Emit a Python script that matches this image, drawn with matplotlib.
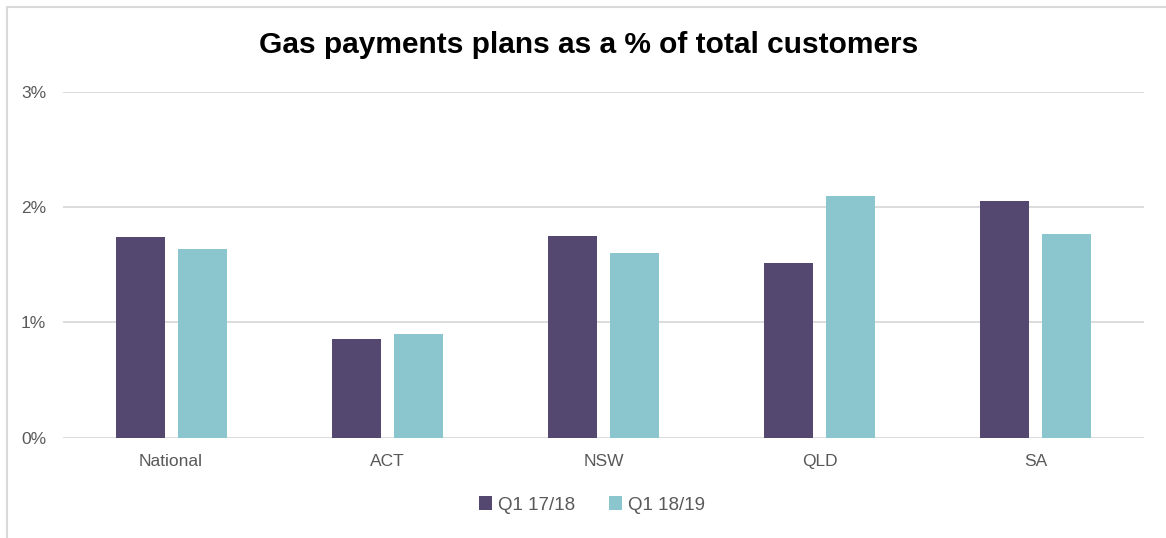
import numpy as np
import matplotlib.pyplot as plt
from matplotlib.patches import Rectangle
from matplotlib.ticker import FuncFormatter

categories = ['National', 'ACT', 'NSW', 'QLD', 'SA']
q1_1718 = [1.74, 0.86, 1.75, 1.52, 2.05]
q1_1819 = [1.64, 0.90, 1.60, 2.10, 1.77]
series_labels = ['Q1 17/18', 'Q1 18/19']

plt.rcParams['font.family'] = ['Liberation Sans', 'DejaVu Sans']

W, H = 1166, 538
fig = plt.figure(figsize=(W / 100, H / 100), dpi=100)

# light frame around the chart area (right and bottom edges run off the image)
fig.patches.append(Rectangle((7 / W, -0.1), 1.2, 1 - 7 / H + 0.1,
                             transform=fig.transFigure, fill=False,
                             edgecolor='#d9d9d9', linewidth=1.5))

ax = fig.add_axes([63 / W, 1 - 437.7 / H, (1144 - 63) / W, (437.7 - 92) / H])

x = np.arange(len(categories))
width = 0.227
offset = 0.1435
ax.bar(x - offset, q1_1718, width, color='#554870', label=series_labels[0], zorder=3)
ax.bar(x + offset, q1_1819, width, color='#8bc6cf', label=series_labels[1], zorder=3)

ax.set_xlim(-0.5, len(categories) - 0.5)
ax.set_ylim(0, 3)
ax.set_yticks([0, 1, 2, 3])
ax.yaxis.set_major_formatter(FuncFormatter(lambda v, _: f'{v:.0f}%'))
ax.set_xticks(x)
ax.set_xticklabels(categories)
ax.grid(axis='y', color='#d9d9d9', linewidth=1.3, zorder=0)
for s in ax.spines.values():
    s.set_visible(False)
ax.tick_params(length=0, labelsize=12.5, colors='#595959')
ax.tick_params(axis='y', pad=12)
ax.tick_params(axis='x', pad=12)

fig.text(589 / W, 1 - 45 / H, 'Gas payments plans as a % of total customers',
         ha='center', va='center', fontsize=21.5, fontweight='bold', color='black')

leg = fig.legend(loc='center', bbox_to_anchor=(592 / W, 1 - 505 / H), ncol=2,
                 frameon=False, fontsize=13.5, handlelength=0.7, handleheight=0.7,
                 handletextpad=0.3, columnspacing=1.8)
for t in leg.get_texts():
    t.set_color('#595959')

fig.savefig('out.png', dpi=100)
